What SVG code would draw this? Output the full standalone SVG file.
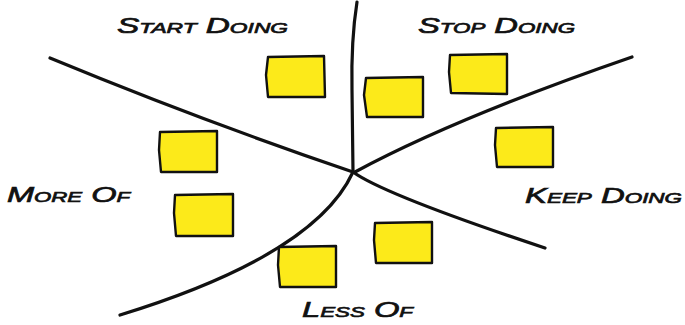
<svg xmlns="http://www.w3.org/2000/svg" width="685" height="325" viewBox="0 0 685 325">
<style>
.line{fill:none;stroke:#111;stroke-width:3.2;stroke-linecap:round;stroke-linejoin:round}
.note{fill:#FCEA1A;stroke:#111;stroke-width:2.4;stroke-linejoin:round}
.lbl{font-family:"Liberation Sans",Arial,sans-serif;font-variant:small-caps;font-style:italic;font-weight:normal;font-size:22px;fill:#111;stroke:#111;stroke-width:0.7}
</style>
<rect width="685" height="325" fill="#fff"/>
<g id="connectors">
<path class="line" d="M357,2 Q351,40 352,90 L353,172"/>
<path class="line" d="M50,58 Q200,120 353,172"/>
<path class="line" d="M355,172 Q455,118 632,57"/>
<path class="line" d="M353,172 Q385,195 545,248"/>
<path class="line" d="M353,172 Q315,255 120,315"/>
</g>
<g id="note-start"><path class="note" d="M268,57 L324,56 L325,97 L268,97 L266,75 Z"/></g>
<g id="note-mid"><path class="note" d="M366,78 L423,77 L423,117 L367,117 L364,95 Z"/></g>
<g id="note-stop"><path class="note" d="M450,55 L507,54 L507,94 L451,93 L449,72 Z"/></g>
<g id="note-keep"><path class="note" d="M496,128 L553,127 L553,167 L497,167 L495,145 Z"/></g>
<g id="note-more1"><path class="note" d="M160,132 L217,131 L217,172 L161,172 L159,150 Z"/></g>
<g id="note-more2"><path class="note" d="M175,195 L233,194 L233,236 L176,236 L174,213 Z"/></g>
<g id="note-less1"><path class="note" d="M279,247 L336,246 L336,287 L280,287 L278,265 Z"/></g>
<g id="note-less2"><path class="note" d="M375,223 L432,222 L432,263 L376,263 L374,240 Z"/></g>
<g id="label-start"><text class="lbl" x="117" y="33" textLength="171" lengthAdjust="spacingAndGlyphs">Start Doing</text></g>
<g id="label-stop"><text class="lbl" x="418" y="33" textLength="157" lengthAdjust="spacingAndGlyphs">Stop Doing</text></g>
<g id="label-more"><text class="lbl" x="7" y="202" textLength="123" lengthAdjust="spacingAndGlyphs">More Of</text></g>
<g id="label-keep"><text class="lbl" x="525" y="203" textLength="157" lengthAdjust="spacingAndGlyphs">Keep Doing</text></g>
<g id="label-less"><text class="lbl" x="302" y="317" textLength="111" lengthAdjust="spacingAndGlyphs">Less Of</text></g>
</svg>
